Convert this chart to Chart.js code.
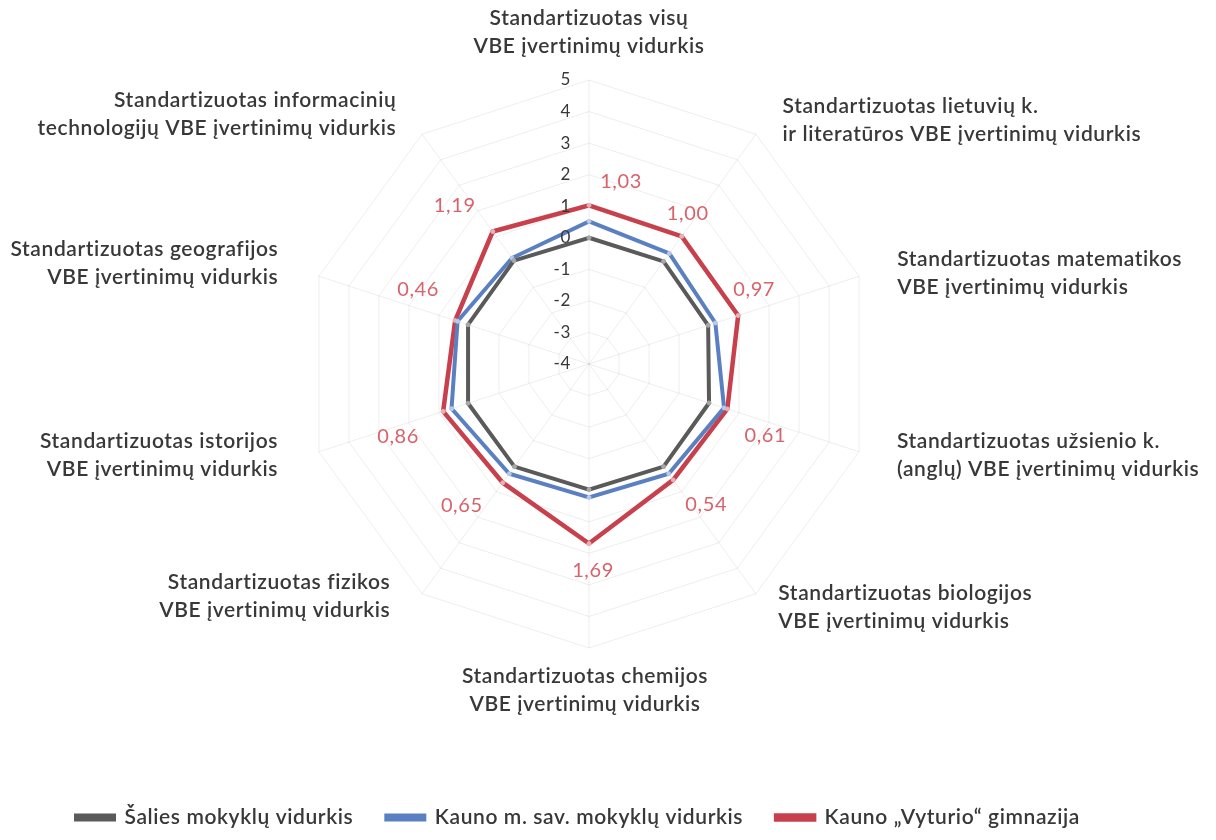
<!DOCTYPE html>
<html>
<head>
<meta charset="utf-8">
<script src="https://cdn.jsdelivr.net/npm/chart.js@4.4.1/dist/chart.umd.min.js"></script>
<style>
  html, body { margin: 0; padding: 0; background: #fff; }
</style>
</head>
<body>
<canvas id="chart" width="1216" height="840"></canvas>
<script>
// axis titles, clockwise from the top
const subjects = [
  ["Standartizuotas visų", "VBE įvertinimų vidurkis"],
  ["Standartizuotas lietuvių k.", "ir literatūros VBE įvertinimų vidurkis"],
  ["Standartizuotas matematikos", "VBE įvertinimų vidurkis"],
  ["Standartizuotas užsienio k.", "(anglų) VBE įvertinimų vidurkis"],
  ["Standartizuotas biologijos", "VBE įvertinimų vidurkis"],
  ["Standartizuotas chemijos", "VBE įvertinimų vidurkis"],
  ["Standartizuotas fizikos", "VBE įvertinimų vidurkis"],
  ["Standartizuotas istorijos", "VBE įvertinimų vidurkis"],
  ["Standartizuotas geografijos", "VBE įvertinimų vidurkis"],
  ["Standartizuotas informacinių", "technologijų VBE įvertinimų vidurkis"]
];

const seriesNames = ["Šalies mokyklų vidurkis", "Kauno m. sav. mokyklų vidurkis", "Kauno „Vyturio“ gimnazija"];

const nationalAvg = [0.00, 0.02, -0.03, 0.00, 0.02, -0.02, 0.02, 0.03, 0.03, 0.05];
const cityAvg = [0.52, 0.33, 0.21, 0.50, 0.30, 0.23, 0.30, 0.58, 0.38, 0.15];
const schoolAvg = [1.03, 1.00, 0.97, 0.61, 0.54, 1.69, 0.65, 0.86, 0.46, 1.19];

const tickValues = [-4, -3, -2, -1, 0, 1, 2, 3, 4, 5];

// layout: where the radar sits on the page
const center = { x: 589, y: 364 };
const radius = 284;

// title placement: [sideways nudge, extra distance beyond outer ring]
const titleNudge = [[0, 22], [19, 13], [41, -3], [16, 23], [10, 21], [-4, 18], [-27, 8], [-19, 23], [-12, 30], [-14, 20]];
// value label offsets from the red vertices
const valueNudge = [[32, -24], [6, -23], [16, -26], [38, 27], [33, 25], [4, 27], [-41, 23], [-45, 25], [-37, -31], [-38, -26]];

const textColor = "#383838";
const fontFamily = "Lato, 'Open Sans', sans-serif";
const spacing = "0.6px";

const decorations = {
  id: "decorations",
  beforeLayout(chart) {
    chart.ctx.letterSpacing = spacing;
  },
  beforeDraw(chart) {
    chart.ctx.letterSpacing = spacing;
  },
  afterDraw(chart) {
    const ctx = chart.ctx;
    const scale = chart.scales.r;
    ctx.save();
    ctx.letterSpacing = spacing;

    // tick labels left of the top spoke
    ctx.font = "17px " + fontFamily;
    ctx.fillStyle = textColor;
    ctx.textAlign = "right";
    ctx.textBaseline = "middle";
    for (const v of tickValues) {
      const p = scale.getPointPositionForValue(0, v);
      ctx.fillText(String(v), p.x - 18, p.y);
    }

    // axis titles
    ctx.font = "600 21px " + fontFamily;
    subjects.forEach((lines, i) => {
      const [dx, extra] = titleNudge[i];
      const p = scale.getPointPosition(i, scale.drawingArea + extra);
      const s = Math.sin(scale.getIndexAngle(i));
      const c = Math.cos(scale.getIndexAngle(i));
      ctx.textAlign = s > 0.1 ? "left" : s < -0.1 ? "right" : "center";
      const lh = 28;
      let top;
      if (c > 0.9) top = p.y - lh * lines.length + 6;
      else if (c < -0.9) top = p.y;
      else top = p.y - (lh * lines.length) / 2;
      ctx.textBaseline = "top";
      lines.forEach((line, k) => ctx.fillText(line, p.x + dx, top + k * lh));
    });

    // value labels for the school series
    const meta = chart.getDatasetMeta(2);
    ctx.font = "20px " + fontFamily;
    ctx.fillStyle = "#d7636b";
    ctx.textAlign = "center";
    ctx.textBaseline = "middle";
    meta.data.forEach((pt, i) => {
      const [dx, dy] = valueNudge[i];
      ctx.fillText(schoolAvg[i].toFixed(2).replace(".", ","), pt.x + dx, pt.y + dy);
    });

    ctx.restore();
  }
};

const lineStyles = [
  { color: "#5a5a5a", marker: "#a8a8a8" },
  { color: "#5b80c2", marker: "#b9c9e6" },
  { color: "#c8404b", marker: "#e7b3b6" }
];

const series = [nationalAvg, cityAvg, schoolAvg];

new Chart(document.getElementById("chart"), {
  type: "radar",
  data: {
    labels: subjects,
    datasets: series.map((values, k) => ({
      label: seriesNames[k],
      data: values,
      borderColor: lineStyles[k].color,
      backgroundColor: lineStyles[k].color,
      borderWidth: k === 2 ? 4.5 : 4,
      fill: false,
      pointRadius: 2,
      pointBorderWidth: 1,
      pointBackgroundColor: lineStyles[k].marker,
      pointBorderColor: lineStyles[k].marker,
      clip: false
    }))
  },
  options: {
    responsive: false,
    animation: false,
    layout: { padding: { bottom: 2, right: 60 } },
    plugins: {
      tooltip: { enabled: false },
      legend: {
        position: "bottom",
        labels: {
          color: textColor,
          boxWidth: 38,
          boxHeight: 4,
          padding: 33,
          font: { family: fontFamily, size: 21, weight: "600" }
        }
      }
    },
    scales: {
      r: {
        min: -4,
        max: 5,
        ticks: { display: false, stepSize: 1 },
        pointLabels: { display: false },
        grid: { color: "rgba(0,0,0,0.07)", lineWidth: 1 },
        angleLines: { color: "rgba(0,0,0,0.07)", lineWidth: 1 },
        afterFit(scale) {
          scale.xCenter = center.x;
          scale.yCenter = center.y;
          scale.drawingArea = radius;
        }
      }
    }
  },
  plugins: [decorations]
});
</script>
</body>
</html>
